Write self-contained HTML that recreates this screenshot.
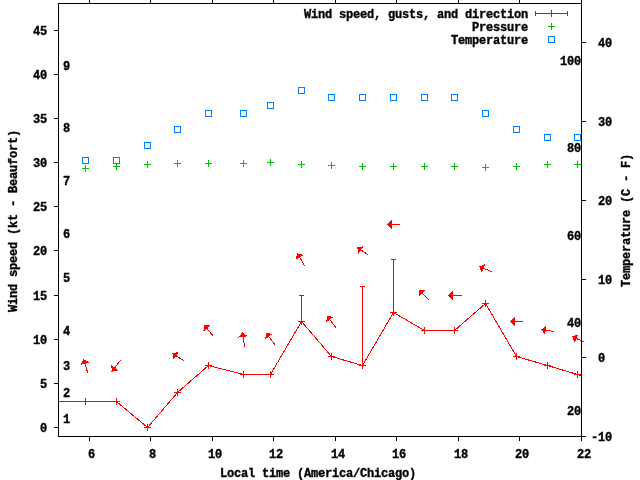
<!DOCTYPE html>
<html><head><meta charset="utf-8"><style>
html,body{margin:0;padding:0;background:#fff;width:640px;height:480px;overflow:hidden}
svg{display:block;will-change:transform}
text{font-family:"Liberation Mono",monospace;font-weight:bold;font-size:12px;letter-spacing:-0.2px;fill:#000;stroke:#000;stroke-width:0.35px}
line,polyline,rect,polygon{shape-rendering:crispEdges;stroke-linecap:square}
</style></head><body>
<svg width="640" height="480" viewBox="0 0 640 480">
<line x1="54.5" y1="427.5" x2="57.5" y2="427.5" stroke="#000"/>
<text x="47" y="432" text-anchor="end">0</text>
<line x1="54.5" y1="383.5" x2="57.5" y2="383.5" stroke="#000"/>
<text x="47" y="388" text-anchor="end">5</text>
<line x1="54.5" y1="339.5" x2="57.5" y2="339.5" stroke="#000"/>
<text x="47" y="344" text-anchor="end">10</text>
<line x1="54.5" y1="295.5" x2="57.5" y2="295.5" stroke="#000"/>
<text x="47" y="300" text-anchor="end">15</text>
<line x1="54.5" y1="250.5" x2="57.5" y2="250.5" stroke="#000"/>
<text x="47" y="255" text-anchor="end">20</text>
<line x1="54.5" y1="206.5" x2="57.5" y2="206.5" stroke="#000"/>
<text x="47" y="211" text-anchor="end">25</text>
<line x1="54.5" y1="162.5" x2="57.5" y2="162.5" stroke="#000"/>
<text x="47" y="167" text-anchor="end">30</text>
<line x1="54.5" y1="118.5" x2="57.5" y2="118.5" stroke="#000"/>
<text x="47" y="123" text-anchor="end">35</text>
<line x1="54.5" y1="74.5" x2="57.5" y2="74.5" stroke="#000"/>
<text x="47" y="79" text-anchor="end">40</text>
<line x1="54.5" y1="30.5" x2="57.5" y2="30.5" stroke="#000"/>
<text x="47" y="35" text-anchor="end">45</text>
<line x1="89.5" y1="437.5" x2="89.5" y2="440.5" stroke="#000"/>
<line x1="89.5" y1="0.5" x2="89.5" y2="2.5" stroke="#000"/>
<text x="88" y="458" text-anchor="start">6</text>
<line x1="150.5" y1="437.5" x2="150.5" y2="440.5" stroke="#000"/>
<line x1="150.5" y1="0.5" x2="150.5" y2="2.5" stroke="#000"/>
<text x="149" y="458" text-anchor="start">8</text>
<line x1="212.5" y1="437.5" x2="212.5" y2="440.5" stroke="#000"/>
<line x1="212.5" y1="0.5" x2="212.5" y2="2.5" stroke="#000"/>
<text x="208" y="458" text-anchor="start">10</text>
<line x1="273.5" y1="437.5" x2="273.5" y2="440.5" stroke="#000"/>
<line x1="273.5" y1="0.5" x2="273.5" y2="2.5" stroke="#000"/>
<text x="269" y="458" text-anchor="start">12</text>
<line x1="335.5" y1="437.5" x2="335.5" y2="440.5" stroke="#000"/>
<line x1="335.5" y1="0.5" x2="335.5" y2="2.5" stroke="#000"/>
<text x="331" y="458" text-anchor="start">14</text>
<line x1="396.5" y1="437.5" x2="396.5" y2="440.5" stroke="#000"/>
<line x1="396.5" y1="0.5" x2="396.5" y2="2.5" stroke="#000"/>
<text x="392" y="458" text-anchor="start">16</text>
<line x1="458.5" y1="437.5" x2="458.5" y2="440.5" stroke="#000"/>
<line x1="458.5" y1="0.5" x2="458.5" y2="2.5" stroke="#000"/>
<text x="454" y="458" text-anchor="start">18</text>
<line x1="519.5" y1="437.5" x2="519.5" y2="440.5" stroke="#000"/>
<line x1="519.5" y1="0.5" x2="519.5" y2="2.5" stroke="#000"/>
<text x="515" y="458" text-anchor="start">20</text>
<line x1="581.5" y1="437.5" x2="581.5" y2="440.5" stroke="#000"/>
<line x1="581.5" y1="0.5" x2="581.5" y2="2.5" stroke="#000"/>
<text x="577" y="458" text-anchor="start">22</text>
<line x1="582.5" y1="436.5" x2="585.5" y2="436.5" stroke="#000"/>
<text x="591" y="441" text-anchor="start">-10</text>
<line x1="582.5" y1="357.5" x2="585.5" y2="357.5" stroke="#000"/>
<text x="591" y="362" text-anchor="start">&#160;0</text>
<line x1="582.5" y1="279.5" x2="585.5" y2="279.5" stroke="#000"/>
<text x="591" y="284" text-anchor="start">&#160;10</text>
<line x1="582.5" y1="200.5" x2="585.5" y2="200.5" stroke="#000"/>
<text x="591" y="205" text-anchor="start">&#160;20</text>
<line x1="582.5" y1="121.5" x2="585.5" y2="121.5" stroke="#000"/>
<text x="591" y="126" text-anchor="start">&#160;30</text>
<line x1="582.5" y1="42.5" x2="585.5" y2="42.5" stroke="#000"/>
<text x="591" y="47" text-anchor="start">&#160;40</text>
<text x="581" y="415" text-anchor="end">20</text>
<text x="581" y="327" text-anchor="end">40</text>
<text x="581" y="240" text-anchor="end">60</text>
<text x="581" y="152" text-anchor="end">80</text>
<text x="581" y="65" text-anchor="end">100</text>
<text x="63" y="423" text-anchor="start">1</text>
<text x="63" y="397" text-anchor="start">2</text>
<text x="63" y="370" text-anchor="start">3</text>
<text x="63" y="335" text-anchor="start">4</text>
<text x="63" y="282" text-anchor="start">5</text>
<text x="63" y="238" text-anchor="start">6</text>
<text x="63" y="185" text-anchor="start">7</text>
<text x="63" y="132" text-anchor="start">8</text>
<text x="63" y="70" text-anchor="start">9</text>
<text x="220" y="477" text-anchor="start">Local&#160;time&#160;(America/Chicago)</text>
<text x="0" y="0" transform="translate(17,312) rotate(-90)">Wind&#160;speed&#160;(kt&#160;-&#160;Beaufort)</text>
<text x="0" y="0" transform="translate(630,287) rotate(-90)">Temperature&#160;(C&#160;-&#160;F)</text>
<text x="528" y="18" text-anchor="end">Wind&#160;speed,&#160;gusts,&#160;and&#160;direction</text>
<text x="528" y="31" text-anchor="end">Pressure</text>
<text x="528" y="44" text-anchor="end">Temperature</text>
<line x1="535.5" y1="13.5" x2="567.5" y2="13.5" stroke="#ff0000"/>
<line x1="535.5" y1="11.5" x2="535.5" y2="15.5" stroke="#ff0000"/>
<line x1="567.5" y1="11.5" x2="567.5" y2="15.5" stroke="#ff0000"/>
<line x1="548.5" y1="13.5" x2="554.5" y2="13.5" stroke="#ff0000"/>
<line x1="551.5" y1="10.5" x2="551.5" y2="16.5" stroke="#ff0000"/>
<line x1="548.5" y1="26.5" x2="554.5" y2="26.5" stroke="#00c000"/>
<line x1="551.5" y1="23.5" x2="551.5" y2="29.5" stroke="#00c000"/>
<rect x="548.5" y="36.5" width="6" height="6" fill="none" stroke="#0080ff"/>
<polyline fill="none" stroke="#ff0000" points="58.5,401.5 85.5,401.5 116.5,401.5 147.5,427.5 177.5,392.5 208.5,365.5 243.5,374.5 270.5,374.5 301.5,321.5 331.5,356.5 362.5,365.5 393.5,312.5 424.5,330.5 454.5,330.5 485.5,303.5 516.5,356.5 547.5,365.5 577.5,374.5 581.5,375.5"/>
<line x1="301.5" y1="295.5" x2="301.5" y2="321.5" stroke="#ff0000"/>
<line x1="299.5" y1="295.5" x2="303.5" y2="295.5" stroke="#ff0000"/>
<line x1="299.5" y1="321.5" x2="303.5" y2="321.5" stroke="#ff0000"/>
<line x1="362.5" y1="286.5" x2="362.5" y2="365.5" stroke="#ff0000"/>
<line x1="360.5" y1="286.5" x2="364.5" y2="286.5" stroke="#ff0000"/>
<line x1="360.5" y1="365.5" x2="364.5" y2="365.5" stroke="#ff0000"/>
<line x1="393.5" y1="259.5" x2="393.5" y2="312.5" stroke="#ff0000"/>
<line x1="391.5" y1="259.5" x2="395.5" y2="259.5" stroke="#ff0000"/>
<line x1="391.5" y1="312.5" x2="395.5" y2="312.5" stroke="#ff0000"/>
<line x1="82.5" y1="401.5" x2="88.5" y2="401.5" stroke="#ff0000"/>
<line x1="85.5" y1="398.5" x2="85.5" y2="404.5" stroke="#ff0000"/>
<line x1="113.5" y1="401.5" x2="119.5" y2="401.5" stroke="#ff0000"/>
<line x1="116.5" y1="398.5" x2="116.5" y2="404.5" stroke="#ff0000"/>
<line x1="144.5" y1="427.5" x2="150.5" y2="427.5" stroke="#ff0000"/>
<line x1="147.5" y1="424.5" x2="147.5" y2="430.5" stroke="#ff0000"/>
<line x1="174.5" y1="392.5" x2="180.5" y2="392.5" stroke="#ff0000"/>
<line x1="177.5" y1="389.5" x2="177.5" y2="395.5" stroke="#ff0000"/>
<line x1="205.5" y1="365.5" x2="211.5" y2="365.5" stroke="#ff0000"/>
<line x1="208.5" y1="362.5" x2="208.5" y2="368.5" stroke="#ff0000"/>
<line x1="240.5" y1="374.5" x2="246.5" y2="374.5" stroke="#ff0000"/>
<line x1="243.5" y1="371.5" x2="243.5" y2="377.5" stroke="#ff0000"/>
<line x1="267.5" y1="374.5" x2="273.5" y2="374.5" stroke="#ff0000"/>
<line x1="270.5" y1="371.5" x2="270.5" y2="377.5" stroke="#ff0000"/>
<line x1="298.5" y1="321.5" x2="304.5" y2="321.5" stroke="#ff0000"/>
<line x1="301.5" y1="318.5" x2="301.5" y2="324.5" stroke="#ff0000"/>
<line x1="328.5" y1="356.5" x2="334.5" y2="356.5" stroke="#ff0000"/>
<line x1="331.5" y1="353.5" x2="331.5" y2="359.5" stroke="#ff0000"/>
<line x1="359.5" y1="365.5" x2="365.5" y2="365.5" stroke="#ff0000"/>
<line x1="362.5" y1="362.5" x2="362.5" y2="368.5" stroke="#ff0000"/>
<line x1="390.5" y1="312.5" x2="396.5" y2="312.5" stroke="#ff0000"/>
<line x1="393.5" y1="309.5" x2="393.5" y2="315.5" stroke="#ff0000"/>
<line x1="421.5" y1="330.5" x2="427.5" y2="330.5" stroke="#ff0000"/>
<line x1="424.5" y1="327.5" x2="424.5" y2="333.5" stroke="#ff0000"/>
<line x1="451.5" y1="330.5" x2="457.5" y2="330.5" stroke="#ff0000"/>
<line x1="454.5" y1="327.5" x2="454.5" y2="333.5" stroke="#ff0000"/>
<line x1="482.5" y1="303.5" x2="488.5" y2="303.5" stroke="#ff0000"/>
<line x1="485.5" y1="300.5" x2="485.5" y2="306.5" stroke="#ff0000"/>
<line x1="513.5" y1="356.5" x2="519.5" y2="356.5" stroke="#ff0000"/>
<line x1="516.5" y1="353.5" x2="516.5" y2="359.5" stroke="#ff0000"/>
<line x1="544.5" y1="365.5" x2="550.5" y2="365.5" stroke="#ff0000"/>
<line x1="547.5" y1="362.5" x2="547.5" y2="368.5" stroke="#ff0000"/>
<line x1="574.5" y1="374.5" x2="580.5" y2="374.5" stroke="#ff0000"/>
<line x1="577.5" y1="371.5" x2="577.5" y2="377.5" stroke="#ff0000"/>
<line x1="87.50" y1="372.25" x2="83.75" y2="359.25" stroke="#ff0000"/>
<polygon fill="#ff0000" stroke="none" points="83.75,359.25 80.56,365.03 89.53,362.44"/>
<line x1="120.50" y1="360.25" x2="112.00" y2="371.50" stroke="#ff0000"/>
<polygon fill="#ff0000" stroke="none" points="112.00,371.50 118.54,370.59 111.09,364.96"/>
<line x1="183.50" y1="360.50" x2="172.25" y2="353.25" stroke="#ff0000"/>
<polygon fill="#ff0000" stroke="none" points="172.25,353.25 173.64,359.70 178.70,351.86"/>
<line x1="212.75" y1="335.50" x2="204.00" y2="325.00" stroke="#ff0000"/>
<polygon fill="#ff0000" stroke="none" points="204.00,325.00 203.40,331.57 210.57,325.60"/>
<line x1="244.50" y1="346.50" x2="242.40" y2="332.25" stroke="#ff0000"/>
<polygon fill="#ff0000" stroke="none" points="242.40,332.25 238.46,337.55 247.70,336.19"/>
<line x1="274.75" y1="344.50" x2="266.00" y2="333.00" stroke="#ff0000"/>
<polygon fill="#ff0000" stroke="none" points="266.00,333.00 265.11,339.54 272.54,333.89"/>
<line x1="304.50" y1="265.50" x2="297.25" y2="253.25" stroke="#ff0000"/>
<polygon fill="#ff0000" stroke="none" points="297.25,253.25 295.61,259.64 303.64,254.89"/>
<line x1="335.75" y1="327.50" x2="327.00" y2="316.00" stroke="#ff0000"/>
<polygon fill="#ff0000" stroke="none" points="327.00,316.00 326.11,322.54 333.54,316.89"/>
<line x1="367.50" y1="254.50" x2="357.25" y2="247.25" stroke="#ff0000"/>
<polygon fill="#ff0000" stroke="none" points="357.25,247.25 358.37,253.76 363.76,246.13"/>
<line x1="399.90" y1="224.40" x2="387.00" y2="224.40" stroke="#ff0000"/>
<polygon fill="#ff0000" stroke="none" points="387.00,224.40 391.67,229.07 391.67,219.73"/>
<line x1="428.75" y1="299.50" x2="419.25" y2="290.00" stroke="#ff0000"/>
<polygon fill="#ff0000" stroke="none" points="419.25,290.00 419.25,296.60 425.85,290.00"/>
<line x1="461.75" y1="295.50" x2="448.25" y2="295.50" stroke="#ff0000"/>
<polygon fill="#ff0000" stroke="none" points="448.25,295.50 452.92,300.17 452.92,290.83"/>
<line x1="491.50" y1="271.50" x2="479.25" y2="266.50" stroke="#ff0000"/>
<polygon fill="#ff0000" stroke="none" points="479.25,266.50 481.81,272.58 485.33,263.94"/>
<line x1="522.75" y1="321.50" x2="510.25" y2="321.50" stroke="#ff0000"/>
<polygon fill="#ff0000" stroke="none" points="510.25,321.50 514.92,326.17 514.92,316.83"/>
<line x1="553.75" y1="331.50" x2="541.25" y2="329.50" stroke="#ff0000"/>
<polygon fill="#ff0000" stroke="none" points="541.25,329.50 545.12,334.85 546.60,325.63"/>
<line x1="583.50" y1="341.50" x2="572.25" y2="336.75" stroke="#ff0000"/>
<polygon fill="#ff0000" stroke="none" points="572.25,336.75 574.73,342.86 578.36,334.27"/>
<line x1="82.5" y1="168.5" x2="88.5" y2="168.5" stroke="#00c000"/>
<line x1="85.5" y1="165.5" x2="85.5" y2="171.5" stroke="#00c000"/>
<line x1="113.5" y1="166.5" x2="119.5" y2="166.5" stroke="#00c000"/>
<line x1="116.5" y1="163.5" x2="116.5" y2="169.5" stroke="#00c000"/>
<line x1="144.5" y1="164.5" x2="150.5" y2="164.5" stroke="#00c000"/>
<line x1="147.5" y1="161.5" x2="147.5" y2="167.5" stroke="#00c000"/>
<line x1="174.5" y1="163.5" x2="180.5" y2="163.5" stroke="#00c000"/>
<line x1="177.5" y1="160.5" x2="177.5" y2="166.5" stroke="#00c000"/>
<line x1="205.5" y1="163.5" x2="211.5" y2="163.5" stroke="#00c000"/>
<line x1="208.5" y1="160.5" x2="208.5" y2="166.5" stroke="#00c000"/>
<line x1="240.5" y1="163.5" x2="246.5" y2="163.5" stroke="#00c000"/>
<line x1="243.5" y1="160.5" x2="243.5" y2="166.5" stroke="#00c000"/>
<line x1="267.5" y1="162.5" x2="273.5" y2="162.5" stroke="#00c000"/>
<line x1="270.5" y1="159.5" x2="270.5" y2="165.5" stroke="#00c000"/>
<line x1="298.5" y1="164.5" x2="304.5" y2="164.5" stroke="#00c000"/>
<line x1="301.5" y1="161.5" x2="301.5" y2="167.5" stroke="#00c000"/>
<line x1="328.5" y1="165.5" x2="334.5" y2="165.5" stroke="#00c000"/>
<line x1="331.5" y1="162.5" x2="331.5" y2="168.5" stroke="#00c000"/>
<line x1="359.5" y1="166.5" x2="365.5" y2="166.5" stroke="#00c000"/>
<line x1="362.5" y1="163.5" x2="362.5" y2="169.5" stroke="#00c000"/>
<line x1="390.5" y1="166.5" x2="396.5" y2="166.5" stroke="#00c000"/>
<line x1="393.5" y1="163.5" x2="393.5" y2="169.5" stroke="#00c000"/>
<line x1="421.5" y1="166.5" x2="427.5" y2="166.5" stroke="#00c000"/>
<line x1="424.5" y1="163.5" x2="424.5" y2="169.5" stroke="#00c000"/>
<line x1="451.5" y1="166.5" x2="457.5" y2="166.5" stroke="#00c000"/>
<line x1="454.5" y1="163.5" x2="454.5" y2="169.5" stroke="#00c000"/>
<line x1="482.5" y1="167.5" x2="488.5" y2="167.5" stroke="#00c000"/>
<line x1="485.5" y1="164.5" x2="485.5" y2="170.5" stroke="#00c000"/>
<line x1="513.5" y1="166.5" x2="519.5" y2="166.5" stroke="#00c000"/>
<line x1="516.5" y1="163.5" x2="516.5" y2="169.5" stroke="#00c000"/>
<line x1="544.5" y1="164.5" x2="550.5" y2="164.5" stroke="#00c000"/>
<line x1="547.5" y1="161.5" x2="547.5" y2="167.5" stroke="#00c000"/>
<line x1="574.5" y1="164.5" x2="580.5" y2="164.5" stroke="#00c000"/>
<line x1="577.5" y1="161.5" x2="577.5" y2="167.5" stroke="#00c000"/>
<rect x="82.5" y="157.5" width="6" height="6" fill="none" stroke="#0080ff"/>
<rect x="113.5" y="157.5" width="6" height="6" fill="none" stroke="#0080ff"/>
<rect x="144.5" y="142.5" width="6" height="6" fill="none" stroke="#0080ff"/>
<rect x="174.5" y="126.5" width="6" height="6" fill="none" stroke="#0080ff"/>
<rect x="205.5" y="110.5" width="6" height="6" fill="none" stroke="#0080ff"/>
<rect x="240.5" y="110.5" width="6" height="6" fill="none" stroke="#0080ff"/>
<rect x="267.5" y="102.5" width="6" height="6" fill="none" stroke="#0080ff"/>
<rect x="298.5" y="87.5" width="6" height="6" fill="none" stroke="#0080ff"/>
<rect x="328.5" y="94.5" width="6" height="6" fill="none" stroke="#0080ff"/>
<rect x="359.5" y="94.5" width="6" height="6" fill="none" stroke="#0080ff"/>
<rect x="390.5" y="94.5" width="6" height="6" fill="none" stroke="#0080ff"/>
<rect x="421.5" y="94.5" width="6" height="6" fill="none" stroke="#0080ff"/>
<rect x="451.5" y="94.5" width="6" height="6" fill="none" stroke="#0080ff"/>
<rect x="482.5" y="110.5" width="6" height="6" fill="none" stroke="#0080ff"/>
<rect x="513.5" y="126.5" width="6" height="6" fill="none" stroke="#0080ff"/>
<rect x="544.5" y="134.5" width="6" height="6" fill="none" stroke="#0080ff"/>
<rect x="574.5" y="134.5" width="6" height="6" fill="none" stroke="#0080ff"/>
<rect x="58.5" y="3.5" width="523" height="433" fill="none" stroke="#000"/>
</svg></body></html>
